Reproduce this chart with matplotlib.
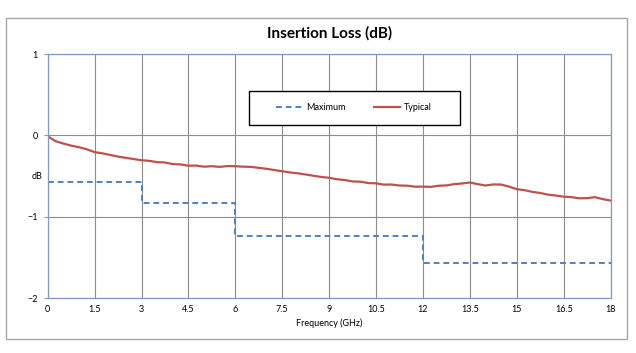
import numpy as np
import matplotlib.pyplot as plt
from matplotlib.patches import Rectangle

# step limits of the "Maximum" spec
max_edges = [0, 3, 6, 12, 18]
max_vals = [-0.57, -0.83, -1.23, -1.57]

# typical measured insertion loss, read every 0.25 GHz
typ_freq = np.arange(0, 18.01, 0.25)
typ_vals = [-0.01, -0.07, -0.10, -0.125, -0.145, -0.17, -0.205, -0.22, -0.24, -0.26,
            -0.275, -0.29, -0.305, -0.312, -0.328, -0.332, -0.352, -0.356, -0.372, -0.37,
            -0.384, -0.378, -0.386, -0.376, -0.378, -0.384, -0.386, -0.398, -0.41, -0.425,
            -0.44, -0.455, -0.465, -0.48, -0.495, -0.51, -0.52, -0.538, -0.548, -0.565,
            -0.568, -0.585, -0.588, -0.604, -0.603, -0.615, -0.617, -0.63, -0.628, -0.632,
            -0.618, -0.614, -0.598, -0.59, -0.578, -0.598, -0.615, -0.602, -0.603, -0.628,
            -0.66, -0.672, -0.693, -0.707, -0.727, -0.738, -0.752, -0.758, -0.772, -0.77,
            -0.758, -0.782, -0.80]

xticks = np.arange(0, 18.01, 1.5)
xlabels = ['0', '1.5', '3', '4.5', '6', '7.5', '9', '10.5', '12', '13.5', '15', '16.5', '18']

plt.rcParams['font.family'] = ['Lato', 'DejaVu Sans']

fig = plt.figure(figsize=(6.36, 3.53), dpi=100)
ax = fig.add_axes([0.075, 0.155, 0.885, 0.692])

# outer chart border
fig.patches.append(Rectangle((6 / 636, 1 - 339 / 353), 621 / 636, 321 / 353,
                             transform=fig.transFigure, fill=False,
                             edgecolor='#a6a6a6', linewidth=1.0))

ax.step(max_edges, max_vals + [max_vals[-1]], where='post', color='#4f81bd',
        linestyle=(0, (3, 2)), linewidth=1.4, label='Maximum')
ax.plot(typ_freq, typ_vals, color='#c0504d', linewidth=1.6, label='Typical')

ax.set_xlim(0, 18)
ax.set_ylim(-2, 1)
ax.set_xticks(xticks)
ax.set_xticklabels(xlabels)
ax.set_yticks([-2, -1, 0, 1])
ax.grid(True, color='#8c8c8c', linewidth=0.8)
ax.set_axisbelow(True)
for s in ax.spines.values():
    s.set_color('#7f9cc0')
    s.set_linewidth(0.9)
ax.tick_params(axis='x', length=0, labelsize=6.5, pad=5)
ax.tick_params(axis='y', length=3, labelsize=6.5, color='#7f9cc0', pad=4)

ax.set_title('Insertion Loss (dB)', fontsize=11, fontweight='bold', pad=12)
ax.set_xlabel('Frequency (GHz)', fontsize=6.5, labelpad=3)
ax.set_ylabel('dB', fontsize=6.5, rotation=0, va='center', ha='center')
ax.yaxis.set_label_coords(-0.019, 0.5)

# legend box drawn by hand, entries centred inside it
box = Rectangle((0.357, 0.709), 0.375, 0.14, transform=ax.transAxes,
                facecolor='white', edgecolor='black', linewidth=1.0, zorder=5)
ax.add_patch(box)
leg = ax.legend(ncol=2, loc='center', bbox_to_anchor=(0.357 + 0.375 / 2, 0.709 + 0.07),
                fontsize=6.5, frameon=False, handlelength=2.8, columnspacing=3.2,
                handletextpad=0.5, borderaxespad=0)
leg.set_zorder(6)

plt.savefig('out.png', dpi=100)
